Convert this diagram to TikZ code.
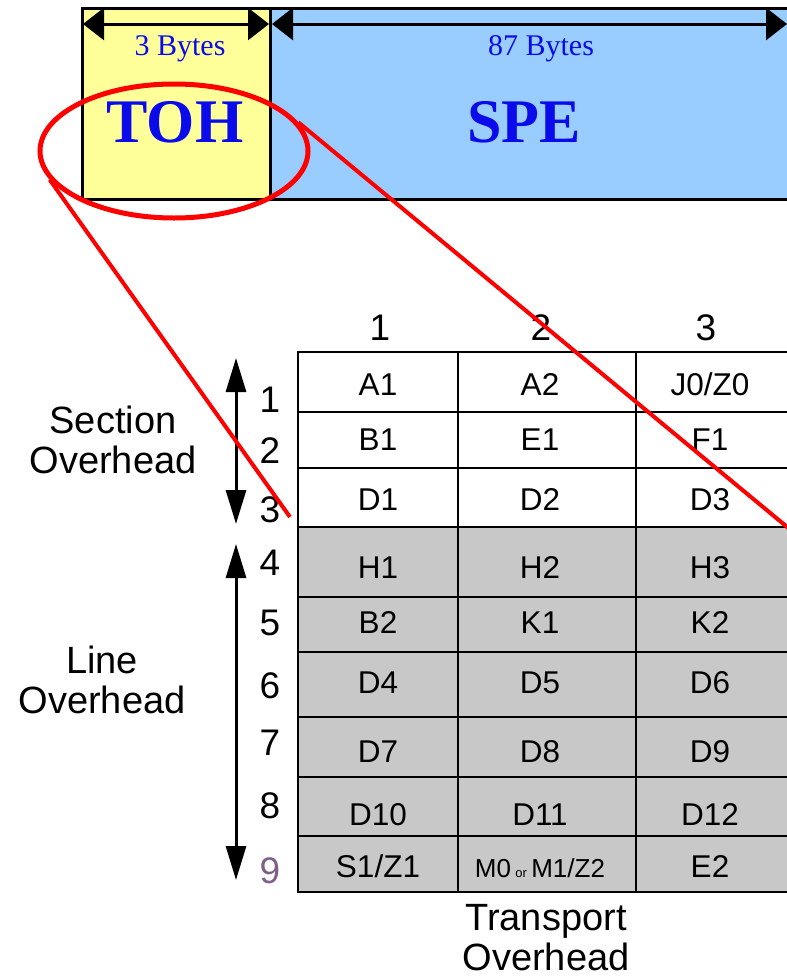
\documentclass[tikz,border=0pt]{standalone}
\usepackage{fontspec}
\setmainfont{Liberation Serif}
\setsansfont{Liberation Sans}
\usetikzlibrary{arrows.meta,shapes.geometric}
\definecolor{tohyellow}{RGB}{255,255,153}
\definecolor{speblue}{RGB}{153,204,255}
\definecolor{bytesblue}{RGB}{10,10,235}
\definecolor{cellgray}{RGB}{200,200,200}
\definecolor{rownine}{RGB}{125,95,135}
\newcommand{\mzeroor}{{\fontsize{26}{26}\selectfont M0\,{\fontsize{13}{13}\selectfont or}\,M1/Z2}}
\tikzset{>=Stealth,every node/.style={font=\sffamily,inner sep=0pt},
  span/.style={line width=3pt,{Triangle[length=21pt,width=32pt]}-{Triangle[length=21pt,width=32pt]}},
  ohspan/.style={line width=3pt,{Triangle[length=34pt,width=20pt]}-{Triangle[length=34pt,width=20pt]}},
  grid/.style={line width=2.6pt,line cap=rect},
  bytes/.style={anchor=base,text=bytesblue,font=\rmfamily\fontsize{30}{30}\selectfont},
  big/.style={anchor=base,text=bytesblue,font=\rmfamily\bfseries\fontsize{62}{62}\selectfont},
  cell/.style={anchor=base,font=\sffamily\fontsize{31.5}{31.5}\selectfont},
  rownum/.style={anchor=base,font=\sffamily\fontsize{37}{37}\selectfont},
  side/.style={align=center,font=\sffamily\fontsize{38}{40}\selectfont},
  loupe/.style={draw=red,line width=5pt,ellipse,minimum width=268pt,minimum height=134pt},
  zoomline/.style={red,line width=4pt}}
\begin{document}
\begin{tikzpicture}[x=1pt,y=-1pt]
\clip (0,0) rectangle (787,980);
% STS-1 frame: overhead + payload
\draw[line width=3pt,fill=tohyellow] (82,8) rectangle (270,199);
\draw[line width=3pt,fill=speblue] (270,8) rectangle (800,199);
\coordinate (tohL) at (83,24); \coordinate (tohR) at (269,24);
\coordinate (speL) at (272,24); \coordinate (speR) at (787,24);
\draw[span] (tohL)--(tohR); \draw[span] (speL)--(speR);
\node[bytes] (tohbytes) at (180,55) {3 Bytes};
\node[bytes] (spebytes) at (541,55) {87 Bytes};
\node[big] (toh) at (175,142) {TOH};
\node[big] (spe) at (524,142) {SPE};

% overhead bytes table
\fill[cellgray] (298,527) rectangle (800,892);
\foreach \y in {352,412,468,527,597,652,717,777,836,892}{\draw[grid] (298,\y)--(800,\y);}
\foreach \x in {298,458,636}{\draw[grid] (\x,352)--(\x,892);}
\foreach \y/\a/\b/\c [count=\r] in {395/A1/A2/{J0/Z0},450/B1/E1/F1,510/D1/D2/D3,578/H1/H2/H3,
  633/B2/K1/K2,693/D4/D5/D6,762/D7/D8/D9,825/D10/D11/D12,877/{S1/Z1}/\mzeroor/E2}{
  \node[cell] (c\r-1) at (378,\y) {\a};
  \node[cell] (c\r-2) at (540,\y) {\b};
  \node[cell] (c\r-3) at (710,\y) {\c};}
\foreach \x [count=\c] in {380,541,706}{\node[rownum] (h\c) at (\x,340) {\c};}
\foreach \y/\tint [count=\r] in {412/black,463/black,522/black,575/black,635/black,
  698/black,755/black,818/black,883/rownine}{\node[rownum,text=\tint] (r\r) at (270,\y) {\r};}

% section / line spans
\coordinate (secTop) at (236,358); \coordinate (secBot) at (236,524);
\coordinate (lineTop) at (236,544); \coordinate (lineBot) at (236,880);
\draw[ohspan] (secTop)--(secBot); \draw[ohspan] (lineTop)--(lineBot);
\node[side] (section) at (113,440) {Section\\Overhead};
\node[side] (line) at (102,680) {Line\\Overhead};
\node[side] (transport) at (546,938) {Transport\\Overhead};

% zoom marks
\node[loupe] (loupe) at (174,151) {};
\coordinate (zoomA) at (290,517); \coordinate (zoomB) at (792,531);
\draw[zoomline] (loupe.193)--(zoomA);
\draw[zoomline] (loupe.13)--(zoomB);
\end{tikzpicture}
\end{document}
